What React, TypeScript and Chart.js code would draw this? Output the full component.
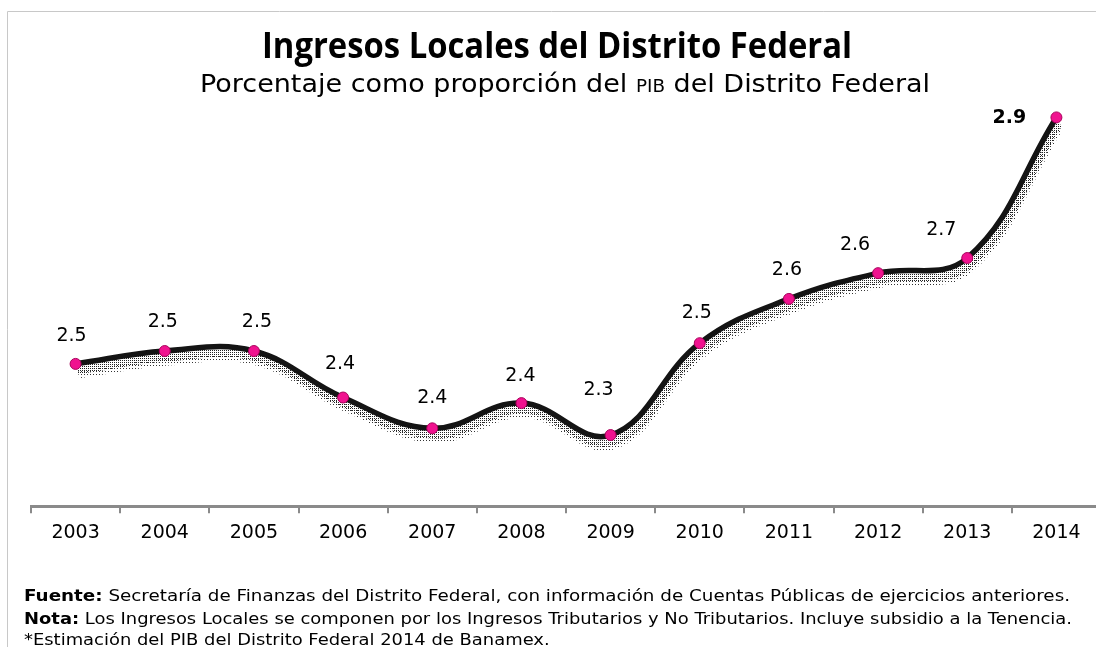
import { useEffect, useRef } from "react";
import { Chart, registerables } from "chart.js";

Chart.register(...registerables);

const years = ["2003", "2004", "2005", "2006", "2007", "2008", "2009", "2010", "2011", "2012", "2013", "2014"];
const values = [2.47, 2.493, 2.493, 2.41, 2.355, 2.4, 2.343, 2.507, 2.586, 2.632, 2.659, 2.91];
const valueLabels = ["2.5", "2.5", "2.5", "2.4", "2.4", "2.4", "2.3", "2.5", "2.6", "2.6", "2.7", "2.9"];
const boldLabels = [false, false, false, false, false, false, false, false, false, false, false, true];
// label offsets relative to each point (style, not data)
const labelOffsets: [number, number][] = [
  [-4, -28], [-2, -29], [3, -29], [-3, -33], [0, -30], [-1, -27],
  [-12, -45], [-3, -30], [-2, -29], [-23, -28], [-26, -28], [-47, 1],
];

const titleText = "Ingresos Locales del Distrito Federal";
const subtitleParts = ["Porcentaje como proporción del ", "PIB", " del Distrito Federal"];
const noteLines: [string, string][] = [
  ["Fuente:", " Secretaría de Finanzas del Distrito Federal, con información de Cuentas Públicas de ejercicios anteriores."],
  ["Nota:", " Los Ingresos Locales se componen por los Ingresos Tributarios y No Tributarios. Incluye subsidio a la Tenencia."],
  ["", "*Estimación del PIB del Distrito Federal 2014 de Banamex."],
];

const CANVAS_W = 1120;
const VIEW_W = 1096;
const VIEW_H = 647;

// shadow layers: dataset index -> translation
const shadowShift: Record<number, [number, number]> = { 1: [2, 6], 2: [3, 11] };

function makePattern(tile: number, dot: number, color: string): CanvasPattern | string {
  const c = document.createElement("canvas");
  c.width = tile;
  c.height = tile;
  const g = c.getContext("2d");
  if (!g) return "rgba(0,0,0,0.3)";
  g.fillStyle = color;
  g.fillRect(0, 0, dot, dot);
  const p = g.createPattern(c, "repeat");
  return p || "rgba(0,0,0,0.3)";
}

const textPlugin = {
  id: "texts",
  beforeDatasetDraw(chart: any, args: any) {
    const s = shadowShift[args.index];
    if (s) {
      chart.ctx.save();
      chart.ctx.translate(s[0], s[1]);
    }
  },
  afterDatasetDraw(chart: any, args: any) {
    if (shadowShift[args.index]) chart.ctx.restore();
  },
  afterDatasetsDraw(chart: any) {
    const ctx = chart.ctx as CanvasRenderingContext2D;
    const meta = chart.getDatasetMeta(0);
    ctx.save();
    ctx.fillStyle = "#000";
    ctx.textAlign = "center";
    ctx.textBaseline = "middle";
    meta.data.forEach((pt: any, i: number) => {
      ctx.font = (boldLabels[i] ? "bold " : "") + "19px 'DejaVu Sans'";
      const [dx, dy] = labelOffsets[i];
      ctx.fillText(valueLabels[i], pt.x + dx, pt.y + dy);
    });
    ctx.restore();
  },
  afterDraw(chart: any) {
    const ctx = chart.ctx as CanvasRenderingContext2D;
    ctx.save();
    // frame
    ctx.strokeStyle = "#c8c8c8";
    ctx.lineWidth = 1;
    ctx.beginPath();
    ctx.moveTo(7.5, VIEW_H);
    ctx.lineTo(7.5, 11.5);
    ctx.lineTo(VIEW_W, 11.5);
    ctx.stroke();

    ctx.fillStyle = "#000";
    ctx.textBaseline = "alphabetic";
    // title
    ctx.font = "bold 35px 'Liberation Sans Narrow', 'Open Sans', sans-serif";
    {
      const w = ctx.measureText(titleText).width;
      const target = 590;
      ctx.save();
      ctx.translate(557, 58);
      ctx.scale(target / w, 1);
      ctx.textAlign = "center";
      ctx.fillText(titleText, 0, 0);
      ctx.restore();
    }
    // subtitle with small caps PIB
    {
      const fonts = ["25px 'DejaVu Sans'", "17px 'DejaVu Sans'", "25px 'DejaVu Sans'"];
      const widths = subtitleParts.map((p, i) => {
        ctx.font = fonts[i];
        return ctx.measureText(p).width;
      });
      const total = widths.reduce((a, b) => a + b, 0);
      const target = 730;
      const s = target / total;
      ctx.save();
      ctx.translate(200, 92);
      ctx.scale(s, 1);
      ctx.textAlign = "left";
      let x = 0;
      subtitleParts.forEach((p, i) => {
        ctx.font = fonts[i];
        ctx.fillText(p, x, 0);
        x += widths[i];
      });
      ctx.restore();
    }
    // notes
    {
      const baselines = [601, 623.5, 645];
      const targets = [1046, 1048, 0];
      let lastScale = 1;
      noteLines.forEach(([b, r], i) => {
        ctx.font = "bold 16px 'DejaVu Sans'";
        const wb = b ? ctx.measureText(b).width : 0;
        ctx.font = "16px 'DejaVu Sans'";
        const wr = ctx.measureText(r).width;
        const s = targets[i] ? targets[i] / (wb + wr) : lastScale;
        lastScale = s;
        ctx.save();
        ctx.translate(24, baselines[i]);
        ctx.scale(s, 1);
        ctx.textAlign = "left";
        if (b) {
          ctx.font = "bold 16px 'DejaVu Sans'";
          ctx.fillText(b, 0, 0);
        }
        ctx.font = "16px 'DejaVu Sans'";
        ctx.fillText(r, wb, 0);
        ctx.restore();
      });
    }
    ctx.restore();
  },
};

export default function App() {
  const ref = useRef<HTMLCanvasElement>(null);
  useEffect(() => {
    if (!ref.current) return;
    const densePattern = makePattern(2, 1, "#222");
    const sparsePattern = makePattern(3, 1, "#333");
    const chart = new Chart(ref.current, {
      type: "line",
      data: {
        labels: years,
        datasets: [
          {
            data: values,
            borderColor: "#141414",
            borderWidth: 5.5,
            tension: 0.4,
            pointRadius: 5.5,
            pointBackgroundColor: "#f0128f",
            pointBorderColor: "#a8005a",
            pointBorderWidth: 1,
            fill: false,
            clip: false as any,
          },
          {
            data: values,
            borderColor: densePattern as any,
            borderWidth: 9,
            tension: 0.4,
            pointRadius: 0,
            fill: false,
            clip: false as any,
          },
          {
            data: values,
            borderColor: sparsePattern as any,
            borderWidth: 7,
            tension: 0.4,
            pointRadius: 0,
            fill: false,
            clip: false as any,
          },
        ],
      },
      options: {
        responsive: false,
        animation: false,
        events: [],
        layout: { padding: { left: 31, right: 19, top: 95, bottom: 95 } },
        plugins: {
          legend: { display: false },
          tooltip: { enabled: false },
          title: { display: false },
        },
        scales: {
          x: {
            offset: true,
            grid: {
              offset: true,
              drawOnChartArea: false,
              drawTicks: true,
              tickLength: 7,
              color: "#8a8a8a",
              lineWidth: 2,
            },
            border: { display: true, color: "#8a8a8a", width: 3 },
            ticks: {
              color: "#000",
              padding: 8,
              font: { family: "'DejaVu Sans'", size: 19 },
              maxRotation: 0,
              autoSkip: false,
            },
          },
          y: {
            display: false,
            min: 2.216,
            max: 2.95,
          },
        },
      },
      plugins: [textPlugin],
    });
    return () => chart.destroy();
  }, []);
  return (
    <div style={{ position: "fixed", left: 0, top: 0, width: VIEW_W, height: VIEW_H, overflow: "hidden", background: "#fff" }}>
      <canvas ref={ref} width={CANVAS_W} height={VIEW_H} style={{ display: "block", width: CANVAS_W, height: VIEW_H }} />
    </div>
  );
}
